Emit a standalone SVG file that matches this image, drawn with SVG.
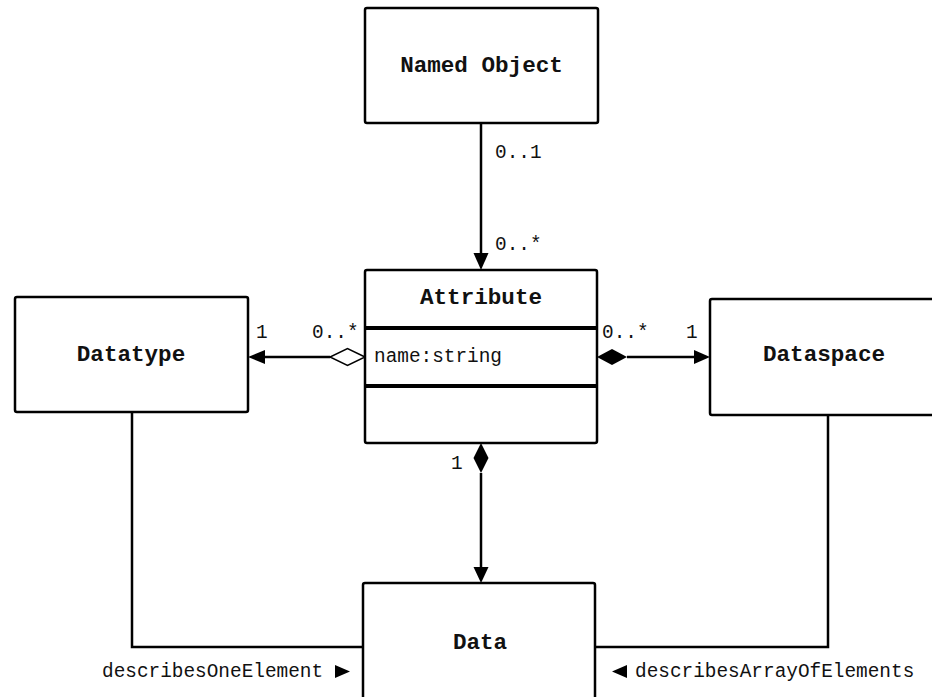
<svg xmlns="http://www.w3.org/2000/svg" width="932" height="697" viewBox="0 0 932 697">
<style>
.box{fill:#fff;stroke:#000;stroke-width:2.5}
.div{stroke:#000;stroke-width:4}
.ln{fill:none;stroke:#000;stroke-width:2.5}
.t{font-family:"Liberation Mono","Courier New",monospace;font-weight:bold;font-size:22.6px;fill:#111;text-anchor:middle;dominant-baseline:central}
.s{font-family:"Liberation Mono","Courier New",monospace;font-size:19.4px;fill:#111;dominant-baseline:central}
.fill{fill:#000}
.hollow{fill:#fff;stroke:#000;stroke-width:1.5}
</style>
<rect width="932" height="697" fill="#fff"/>
<g id="connectors">
  <line class="ln" x1="481" y1="123" x2="481" y2="256"/>
  <polygon class="fill" points="481,270 473.5,253 488.5,253"/>
  <text class="s" x="495" y="153">0..1</text>
  <text class="s" x="495" y="245">0..*</text>

  <line class="ln" x1="330" y1="357" x2="262" y2="357"/>
  <polygon class="fill" points="248,357 265,350 265,364"/>
  <polygon class="hollow" points="365,357 347.5,348.5 330,357 347.5,365.5"/>
  <text class="s" x="256" y="333">1</text>
  <text class="s" x="312" y="333">0..*</text>

  <line class="ln" x1="627" y1="357" x2="697" y2="357"/>
  <polygon class="fill" points="597,357 612,349 627,357 612,365"/>
  <polygon class="fill" points="710,357 694,350 694,364"/>
  <text class="s" x="602" y="333">0..*</text>
  <text class="s" x="686" y="333">1</text>

  <line class="ln" x1="481" y1="473" x2="481" y2="570"/>
  <polygon class="fill" points="481,443 488.5,458 481,473 473.5,458"/>
  <polygon class="fill" points="481,583 473.5,567 488.5,567"/>
  <text class="s" x="451" y="464">1</text>

  <polyline class="ln" points="132,413 132,647 363,647"/>
  <polyline class="ln" points="828,415 828,647 595,647"/>
  <text class="s" x="102" y="672">describesOneElement</text>
  <polygon class="fill" points="335,665 350,671.5 335,678"/>
  <polygon class="fill" points="627,665 612,671.5 627,678"/>
  <text class="s" x="635" y="672">describesArrayOfElements</text>
</g>
<g id="named-object">
  <rect class="box" x="365" y="8" width="233" height="115" rx="2"/>
  <text class="t" x="481.5" y="66">Named Object</text>
</g>
<g id="attribute">
  <rect class="box" x="365" y="270" width="232" height="173" rx="2"/>
  <line class="div" x1="365" y1="328" x2="597" y2="328"/>
  <line class="div" x1="365" y1="386" x2="597" y2="386"/>
  <text class="t" x="481" y="298">Attribute</text>
  <text class="s" x="374" y="357">name:string</text>
</g>
<g id="datatype">
  <rect class="box" x="15" y="297" width="233" height="115" rx="2"/>
  <text class="t" x="131" y="355">Datatype</text>
</g>
<g id="dataspace">
  <rect class="box" x="710" y="299" width="230" height="116" rx="2"/>
  <text class="t" x="824" y="355">Dataspace</text>
</g>
<g id="data">
  <rect class="box" x="363" y="583" width="232" height="130" rx="2"/>
  <text class="t" x="480" y="643">Data</text>
</g>
</svg>
